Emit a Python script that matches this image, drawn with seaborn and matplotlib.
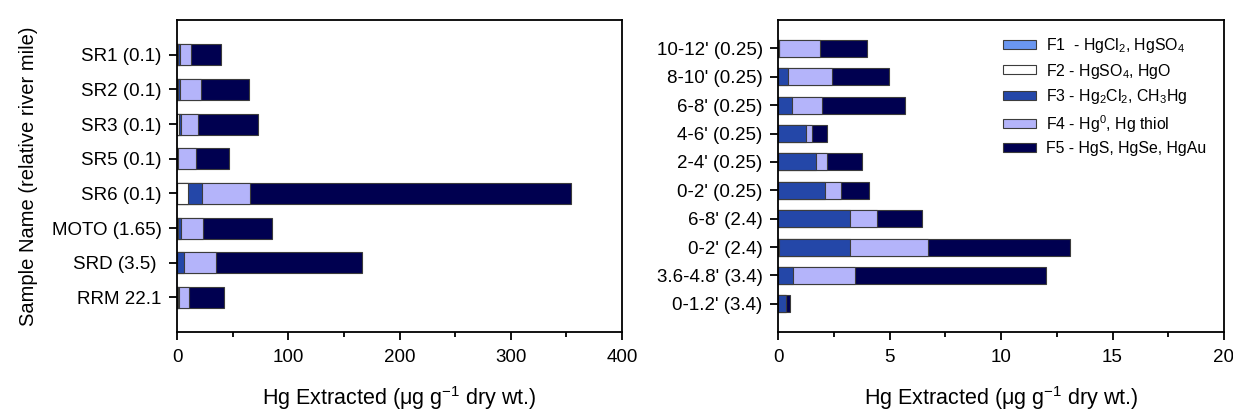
import numpy as np
import pandas as pd
import matplotlib
matplotlib.use("Agg")
import matplotlib.pyplot as plt
from matplotlib.patches import Patch
from matplotlib.ticker import MultipleLocator
import seaborn as sns

sns.set_style("ticks")
plt.rcParams["font.family"] = ["Liberation Sans", "DejaVu Sans"]
plt.rcParams["mathtext.fontset"] = "custom"
plt.rcParams["mathtext.rm"] = "Liberation Sans"
plt.rcParams["mathtext.it"] = "Liberation Sans:italic"
plt.rcParams["axes.unicode_minus"] = False
plt.rcParams["text.color"] = "black"
plt.rcParams["axes.labelcolor"] = "black"

# Surface / river-mile samples (µg/g dry wt.)
river_samples = ["SR1 (0.1)", "SR2 (0.1)", "SR3 (0.1)", "SR5 (0.1)",
                 "SR6 (0.1)", "MOTO (1.65)", "SRD (3.5) ", "RRM 22.1"]
river_f1 = [0.0, 0.0, 0.0, 0.0, 0.0, 0.0, 0.0, 0.0]
river_f2 = [0.5, 0.5, 1.5, 0.3, 9.8, 0.5, 0.3, 0.5]
river_f3 = [2.0, 2.0, 2.3, 0.3, 12.9, 3.2, 6.3, 1.3]
river_f4 = [10.3, 18.7, 15.3, 16.4, 42.8, 19.5, 28.6, 8.6]
river_f5 = [26.8, 43.8, 54.1, 29.4, 288.5, 62.3, 130.8, 31.6]

# Core depth intervals (µg/g dry wt.)
core_samples = ["10-12' (0.25)", "8-10' (0.25)", "6-8' (0.25)", "4-6' (0.25)",
                "2-4' (0.25)", "0-2' (0.25)", "6-8' (2.4)", "0-2' (2.4)",
                "3.6-4.8' (3.4)", "0-1.2' (3.4)"]
core_f1 = [0.0, 0.0, 0.0, 0.0, 0.0, 0.0, 0.0, 0.0, 0.0, 0.0]
core_f2 = [0.05, 0.0, 0.0, 0.0, 0.0, 0.0, 0.0, 0.05, 0.0, 0.0]
core_f3 = [0.0, 0.43, 0.63, 1.24, 1.69, 2.12, 3.25, 3.2, 0.69, 0.34]
core_f4 = [1.85, 2.0, 1.34, 0.30, 0.52, 0.69, 1.18, 3.48, 2.76, 0.02]
core_f5 = [2.07, 2.55, 3.73, 0.64, 1.56, 1.26, 2.01, 6.37, 8.55, 0.16]

fraction_names = ["F1  - HgCl$_2$, HgSO$_4$",
                  "F2 - HgSO$_4$, HgO",
                  "F3 - Hg$_2$Cl$_2$, CH$_3$Hg",
                  "F4 - Hg$^0$, Hg thiol",
                  "F5 - HgS, HgSe, HgAu"]
fraction_colors = ["#6a96f0", "#ffffff", "#2447a8", "#b4b4fa", "#000050"]
edge = "#3c3c3c"

xlabel_text = "Hg Extracted (μg g$^{\\mathrm{-}1}$ dry wt.)"


def stacked(ax, samples, fractions, xmax, major, minor):
    df = pd.DataFrame({"sample": samples})
    cum = np.cumsum(np.array(fractions), axis=0)
    # paint longest (cumulative) layer first so shorter ones sit on top
    for i in range(len(fractions) - 1, -1, -1):
        df["val"] = cum[i]
        sns.barplot(data=df, x="val", y="sample", orient="h",
                    color=fraction_colors[i], saturation=1, width=0.6,
                    edgecolor=edge, linewidth=0.8, ax=ax)
    ax.set_xlim(0, xmax)
    ax.set_ylim(len(samples), -1)
    ax.xaxis.set_major_locator(MultipleLocator(major))
    ax.xaxis.set_minor_locator(MultipleLocator(minor))
    ax.tick_params(axis="both", which="major", direction="out", length=6,
                   width=1.3, labelsize=13.5, colors="black")
    ax.tick_params(axis="x", which="minor", direction="out", length=3.5,
                   width=1.3, colors="black")
    ax.tick_params(axis="y", pad=5)
    ax.tick_params(axis="x", pad=6)
    for s in ax.spines.values():
        s.set_visible(True)
        s.set_linewidth(1.3)
        s.set_color("black")
    ax.set_xlabel(xlabel_text, fontsize=15.5, labelpad=13, color="black")


fig = plt.figure(figsize=(12.33, 4.11), dpi=100)
ax1 = fig.add_axes([0.1436, 0.192, 0.3609, 0.759])
ax2 = fig.add_axes([0.6310, 0.192, 0.3617, 0.759])

stacked(ax1, river_samples, [river_f1, river_f2, river_f3, river_f4, river_f5],
        400, 100, 50)
stacked(ax2, core_samples, [core_f1, core_f2, core_f3, core_f4, core_f5],
        20, 5, 2.5)

ax1.set_ylabel("Sample Name (relative river mile)", fontsize=14.5,
               labelpad=10, color="black")
ax2.set_ylabel("")

handles = [Patch(facecolor=c, edgecolor=edge, linewidth=0.8)
           for c in fraction_colors]
ax2.legend(handles, fraction_names, loc="upper right",
           bbox_to_anchor=(0.985, 0.985), frameon=False, fontsize=11.4,
           handlelength=2.1, handleheight=0.5, labelspacing=0.42,
           handletextpad=0.6, borderaxespad=0.3, labelcolor="black")

fig.savefig("out.png", dpi=100)
